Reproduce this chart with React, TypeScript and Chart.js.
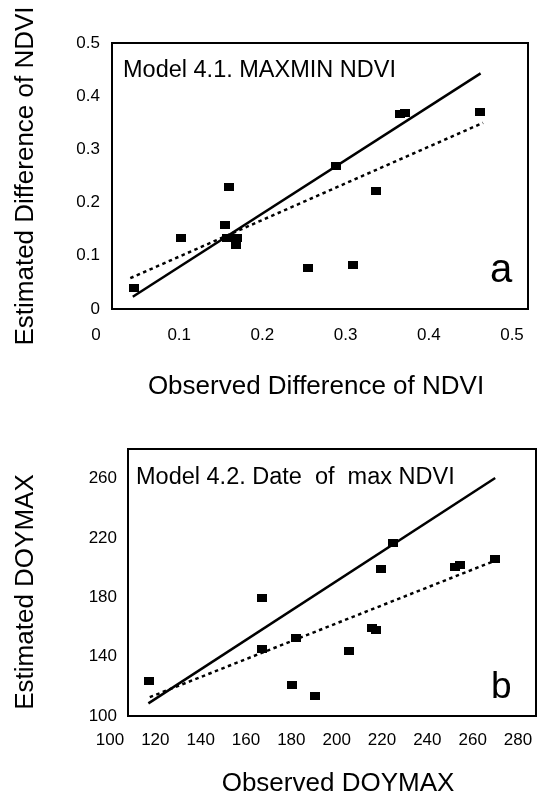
import React, { useEffect, useRef } from "react";
import { Chart, registerables } from "chart.js";

Chart.register(...registerables);

const FONT_FAMILY = '"Liberation Sans", Arial, Helvetica, sans-serif';

// ---------- Panel a: Model 4.1. MAXMIN NDVI ----------
const ndviObserved = [0.026, 0.083, 0.141, 0.136, 0.138, 0.15, 0.149, 0.236, 0.269, 0.29, 0.317, 0.346, 0.352, 0.442];
const ndviEstimated = [0.039, 0.133, 0.23, 0.158, 0.133, 0.133, 0.12, 0.078, 0.269, 0.083, 0.222, 0.367, 0.368, 0.371];
const ndviOneToOneX = [0.025, 0.443];
const ndviOneToOneY = [0.023, 0.443];
const ndviFitX = [0.022, 0.446];
const ndviFitY = [0.058, 0.35];
const ndviXTicks = [0, 0.1, 0.2, 0.3, 0.4, 0.5];
const ndviXTickLabels = ["0", "0.1", "0.2", "0.3", "0.4", "0.5"];
const ndviYTicks = [0, 0.1, 0.2, 0.3, 0.4, 0.5];
const ndviYTickLabels = ["0", "0.1", "0.2", "0.3", "0.4", "0.5"];

// ---------- Panel b: Model 4.2. Date of max NDVI ----------
const doyObserved = [109.1, 158.9, 159.2, 174.3, 172.4, 182.6, 197.6, 207.5, 209.4, 211.4, 217.0, 244.2, 246.4, 261.9];
const doyEstimated = [123.5, 179.6, 145.4, 152.9, 121.1, 113.7, 143.6, 159.6, 157.8, 199.1, 216.8, 200.6, 201.8, 205.8];
const doyOneToOneX = [109, 262];
const doyOneToOneY = [108.5, 260.5];
const doyFitX = [109.6, 261.9];
const doyFitY = [112.7, 204.7];
const doyXTicks = [100, 120, 140, 160, 180, 200, 220, 240, 260, 280];
const doyXTickLabels = ["100", "120", "140", "160", "180", "200", "220", "240", "260", "280"];
const doyYTicks = [100, 140, 180, 220, 260];
const doyYTickLabels = ["100", "140", "180", "220", "260"];

type TextItem = {
  text: string;
  x: number;
  y: number;
  size: number;
  align?: CanvasTextAlign;
  baseline?: CanvasTextBaseline;
  rotate?: number;
};

type PanelSpec = {
  width: number;
  height: number;
  area: { left: number; top: number; right: number; bottom: number };
  xs: number[];
  ys: number[];
  oneX: number[];
  oneY: number[];
  fitX: number[];
  fitY: number[];
  xMin: number;
  xMax: number;
  yMin: number;
  yMax: number;
  xTicks: number[];
  xTickLabels: string[];
  yTicks: number[];
  yTickLabels: string[];
  xLabelOffset: number;
  xTickPad: number;
  yTickPad: number;
  texts: TextItem[];
};

const framePlugin = {
  id: "frameAndText",
  afterDraw(chart: any, _args: any, opts: any) {
    const { ctx, chartArea } = chart;
    const { left, top, right, bottom } = chartArea;
    ctx.save();
    ctx.strokeStyle = "#000";
    ctx.lineWidth = 2;
    ctx.strokeRect(left, top, right - left, bottom - top);
    const texts: TextItem[] = opts.texts || [];
    texts.forEach((t) => {
      ctx.save();
      ctx.font = `${t.size}px ${FONT_FAMILY}`;
      ctx.fillStyle = "#000";
      ctx.textAlign = t.align || "left";
      ctx.textBaseline = t.baseline || "alphabetic";
      ctx.translate(t.x, t.y);
      if (t.rotate) ctx.rotate((t.rotate * Math.PI) / 180);
      ctx.fillText(t.text, 0, 0);
      ctx.restore();
    });
    ctx.restore();
  },
};

function makeMarker(w: number, h: number) {
  const c = document.createElement("canvas");
  c.width = w;
  c.height = h;
  const g = c.getContext("2d")!;
  g.fillStyle = "#000";
  g.fillRect(0, 0, w, h);
  return c;
}

function buildConfig(p: PanelSpec): any {
  const marker = makeMarker(10, 8);
  const tickFont = { family: FONT_FAMILY, size: 17 };
  return {
    type: "scatter",
    data: {
      datasets: [
        {
          label: "points",
          data: p.xs.map((x, i) => ({ x, y: p.ys[i] })),
          pointStyle: marker,
          pointRadius: 5,
          backgroundColor: "#000",
          borderColor: "#000",
          showLine: false,
        },
        {
          label: "1:1",
          data: p.oneX.map((x, i) => ({ x, y: p.oneY[i] })),
          showLine: true,
          borderColor: "#000",
          borderWidth: 2.5,
          pointRadius: 0,
          fill: false,
        },
        {
          label: "fit",
          data: p.fitX.map((x, i) => ({ x, y: p.fitY[i] })),
          showLine: true,
          borderColor: "#000",
          borderWidth: 2.5,
          borderDash: [3.5, 3.5],
          borderCapStyle: "butt",
          pointRadius: 0,
          fill: false,
        },
      ],
    },
    options: {
      responsive: false,
      animation: false,
      events: [],
      layout: {
        autoPadding: false,
        padding: { left: 0, top: p.area.top, right: p.width - p.area.right, bottom: 0 },
      },
      plugins: {
        legend: { display: false },
        tooltip: { enabled: false },
        title: { display: false },
        frameAndText: { texts: p.texts },
      },
      scales: {
        x: {
          type: "linear",
          min: p.xMin,
          max: p.xMax,
          afterBuildTicks: (s: any) => {
            s.ticks = p.xTicks.map((v) => ({ value: v }));
          },
          ticks: {
            color: "#000",
            font: tickFont,
            padding: p.xTickPad,
            labelOffset: p.xLabelOffset,
            maxRotation: 0,
            minRotation: 0,
            autoSkip: false,
            callback: (_v: any, i: number) => p.xTickLabels[i],
          },
          grid: { display: false, drawTicks: false },
          border: { display: false },
          afterFit: (s: any) => {
            s.height = p.height - p.area.bottom;
            s.paddingLeft = 0;
            s.paddingRight = 0;
          },
        },
        y: {
          type: "linear",
          min: p.yMin,
          max: p.yMax,
          afterBuildTicks: (s: any) => {
            s.ticks = p.yTicks.map((v) => ({ value: v }));
          },
          ticks: {
            color: "#000",
            font: tickFont,
            padding: p.yTickPad,
            autoSkip: false,
            callback: (_v: any, i: number) => p.yTickLabels[i],
          },
          grid: { display: false, drawTicks: false },
          border: { display: false },
          afterFit: (s: any) => {
            s.width = p.area.left;
            s.paddingTop = 0;
            s.paddingBottom = 0;
          },
        },
      },
    },
    plugins: [framePlugin],
  };
}

const panelA: PanelSpec = {
  width: 537,
  height: 400,
  area: { left: 112, top: 43, right: 528, bottom: 309 },
  xs: ndviObserved,
  ys: ndviEstimated,
  oneX: ndviOneToOneX,
  oneY: ndviOneToOneY,
  fitX: ndviFitX,
  fitY: ndviFitY,
  xMin: 0,
  xMax: 0.5,
  yMin: 0,
  yMax: 0.5,
  xTicks: ndviXTicks,
  xTickLabels: ndviXTickLabels,
  yTicks: ndviYTicks,
  yTickLabels: ndviYTickLabels,
  xLabelOffset: -16,
  xTickPad: 16,
  yTickPad: 12,
  texts: [
    { text: "Model 4.1. MAXMIN NDVI", x: 123, y: 77, size: 23.5 },
    { text: "a", x: 490, y: 282, size: 40 },
    { text: "Estimated Difference of NDVI", x: 26, y: 176, size: 26, align: "center", baseline: "middle", rotate: -90 },
    { text: "Observed Difference of NDVI", x: 316, y: 387, size: 26, align: "center", baseline: "middle" },
  ],
};

const panelB: PanelSpec = {
  width: 537,
  height: 399,
  area: { left: 128, top: 49, right: 536, bottom: 316 },
  xs: doyObserved,
  ys: doyEstimated,
  oneX: doyOneToOneX,
  oneY: doyOneToOneY,
  fitX: doyFitX,
  fitY: doyFitY,
  xMin: 100,
  xMax: 280,
  yMin: 100,
  yMax: 280,
  xTicks: doyXTicks,
  xTickLabels: doyXTickLabels,
  yTicks: doyYTicks,
  yTickLabels: doyYTickLabels,
  xLabelOffset: -18,
  xTickPad: 14,
  yTickPad: 11,
  texts: [
    { text: "Model 4.2. Date  of  max NDVI", x: 136, y: 83.5, size: 23.5 },
    { text: "b", x: 491, y: 298, size: 37 },
    { text: "Estimated DOYMAX", x: 26, y: 192, size: 26, align: "center", baseline: "middle", rotate: -90 },
    { text: "Observed DOYMAX", x: 338, y: 384, size: 26, align: "center", baseline: "middle" },
  ],
};

function Panel({ spec, top }: { spec: PanelSpec; top: number }) {
  const ref = useRef<HTMLCanvasElement | null>(null);
  useEffect(() => {
    if (!ref.current) return;
    const chart = new Chart(ref.current, buildConfig(spec));
    return () => chart.destroy();
  }, [spec]);
  return (
    <canvas
      ref={ref}
      width={spec.width}
      height={spec.height}
      style={{ position: "absolute", left: 0, top, width: spec.width, height: spec.height, display: "block" }}
    />
  );
}

export default function App() {
  return (
    <div style={{ position: "fixed", left: 0, top: 0, width: 537, height: 799, background: "#fff" }}>
      <Panel spec={panelA} top={0} />
      <Panel spec={panelB} top={400} />
    </div>
  );
}
